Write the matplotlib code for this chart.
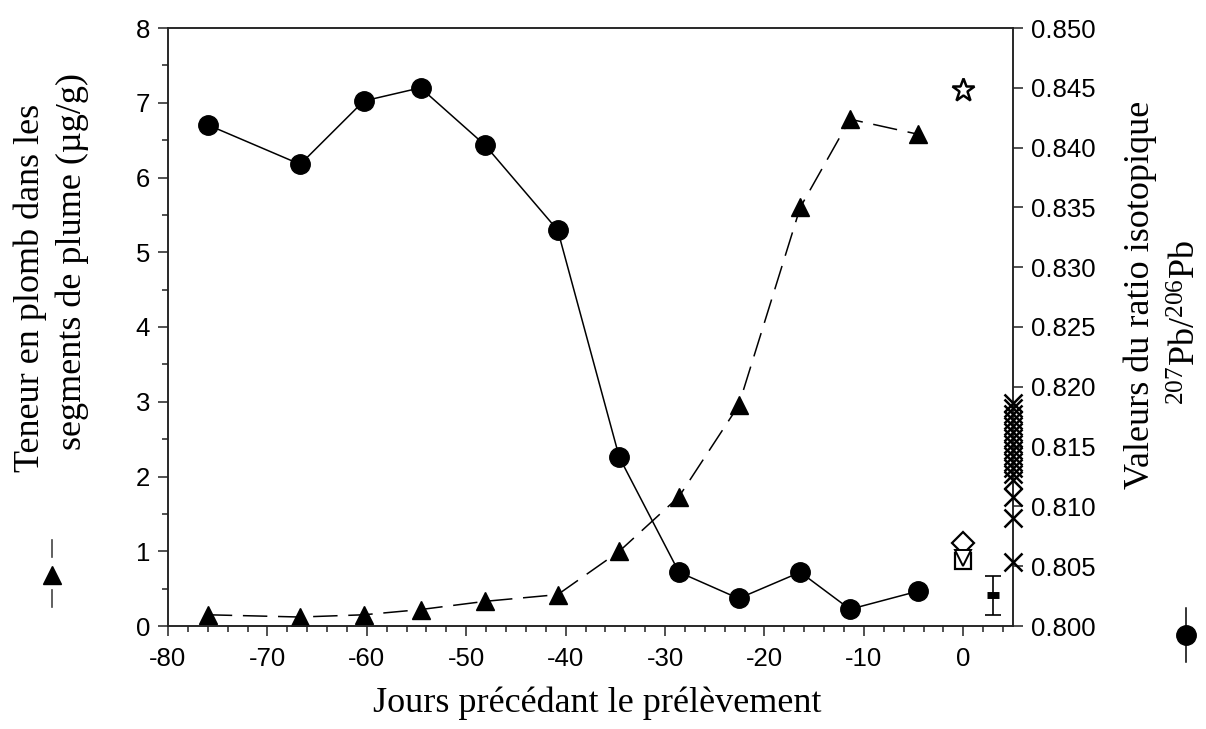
import matplotlib.pyplot as plt
from matplotlib.lines import Line2D
from matplotlib.ticker import MultipleLocator, FormatStrFormatter

plt.rcParams['font.family'] = ['Liberation Sans', 'DejaVu Sans']
plt.rcParams['axes.unicode_minus'] = False
plt.rcParams['mathtext.fontset'] = 'custom'
plt.rcParams['mathtext.rm'] = 'Liberation Serif'

# feather segments: days before sampling
days = [-76, -66.7, -60.3, -54.6, -48.1, -40.8, -34.6, -28.6, -22.6, -16.4, -11.4, -4.6]
pb_content = [0.15, 0.12, 0.15, 0.22, 0.33, 0.42, 1.0, 1.73, 2.95, 5.6, 6.78, 6.58]
pb_ratio = [0.8419, 0.8386, 0.8439, 0.8450, 0.8402, 0.8331, 0.8141, 0.8045,
            0.8023, 0.8045, 0.8014, 0.8029]

# reference sources at day 0
star_ratio = 0.8448
diamond_ratio = 0.8069
vtri_ratio = 0.8057
square_ratio = 0.8054

# mean +/- range at day 3
err_x = 3
err_mean = 0.8026
err_low = 0.8009
err_high = 0.8042

# other samples drawn on the right axis
cross_ratio = [0.81865, 0.81823, 0.81773, 0.81722, 0.81672, 0.81622, 0.81572,
               0.81522, 0.81472, 0.81421, 0.81371, 0.81321, 0.81271, 0.81221,
               0.81079, 0.80903, 0.80535]

W, H = 1206, 729
fig = plt.figure(figsize=(W / 100, H / 100), dpi=100)
ax = fig.add_axes([168 / W, 1 - 626 / H, (1013 - 168) / W, (626 - 28) / H])
ax2 = ax.twinx()

lw = 1.1
ax.plot(days, pb_content, color='black', lw=lw, linestyle=(0, (16, 7)),
        marker='^', ms=13, mfc='black', mec='black', zorder=3)
ax2.plot(days, pb_ratio, color='black', lw=lw, marker='o', ms=14,
         mfc='black', mec='black', zorder=3)

ax2.plot([0], [star_ratio], marker='*', ms=17, mfc='white', mec='black', mew=1.8, ls='none')
ax2.plot([0], [diamond_ratio], marker='D', ms=11, mfc='white', mec='black', mew=1.6, ls='none')
ax2.plot([0], [square_ratio], marker='s', ms=12, mfc='white', mec='black', mew=1.6, ls='none')
ax2.plot([0], [vtri_ratio], marker='v', ms=11, mfc='white', mec='black', mew=1.4, ls='none')

ax2.errorbar([err_x], [err_mean], yerr=[[err_mean - err_low], [err_high - err_mean]],
             fmt='none', ecolor='black', elinewidth=1.2, capsize=6, capthick=1.2)
ax2.plot([err_x], [err_mean], marker='_', ms=9, mew=5, color='black', ls='none')

ax2.plot([5] * len(cross_ratio), cross_ratio, marker='x', ms=13, mew=1.8,
         color='black', ls='none', clip_on=False, zorder=5)

ax.set_xlim(-80, 5)
ax.set_ylim(0, 8)
ax2.set_ylim(0.800, 0.850)

ax.set_xticks(range(-80, 1, 10))
ax.xaxis.set_minor_locator(MultipleLocator(2))
ax.yaxis.set_major_locator(MultipleLocator(1))
ax.yaxis.set_minor_locator(MultipleLocator(0.5))
ax2.yaxis.set_major_locator(MultipleLocator(0.005))
ax2.yaxis.set_major_formatter(FormatStrFormatter('%.3f'))

for a in (ax, ax2):
    for s in a.spines.values():
        s.set_linewidth(1.1)
        s.set_color('#222222')
    a.tick_params(which='major', direction='out', length=7, width=1.1,
                  labelsize=18.5, color='#222222')
    a.tick_params(which='minor', direction='out', length=4.5, width=1.1, color='#222222')
ax.tick_params(axis='x', pad=8)
ax.tick_params(axis='y', pad=6)
ax2.tick_params(axis='y', pad=6)

serif = ['Liberation Serif', 'DejaVu Serif']
fig.text(597 / W, 1 - 703 / H, 'Jours précédant le prélèvement', family=serif,
         fontsize=26, ha='center', va='center')
fig.text(30 / W, 1 - 288 / H, 'Teneur en plomb dans les', family=serif,
         fontsize=26, rotation=90, ha='center', va='center')
fig.text(72 / W, 1 - 262 / H, 'segments de plume (µg/g)', family=serif,
         fontsize=26, rotation=90, ha='center', va='center')
fig.text(1140 / W, 1 - 295 / H, 'Valeurs du ratio isotopique', family=serif,
         fontsize=26, rotation=90, ha='center', va='center')
fig.text(1186 / W, 1 - 322 / H, r'$\mathrm{^{207}Pb/^{206}Pb}$',
         fontsize=26, rotation=90, ha='center', va='center')

# symbols next to the axis labels
for y0, y1 in [(540, 557), (590, 607)]:
    fig.add_artist(Line2D([52 / W, 52 / W], [1 - y1 / H, 1 - y0 / H], color='#444444', lw=1.2))
fig.add_artist(Line2D([52 / W], [1 - 575 / H], marker='^', ms=13, color='black', ls='none'))
fig.add_artist(Line2D([1186 / W, 1186 / W], [1 - 662 / H, 1 - 608 / H], color='black', lw=1.1))
fig.add_artist(Line2D([1186 / W], [1 - 635 / H], marker='o', ms=14, color='black', ls='none'))

fig.savefig('out.png', dpi=100)
